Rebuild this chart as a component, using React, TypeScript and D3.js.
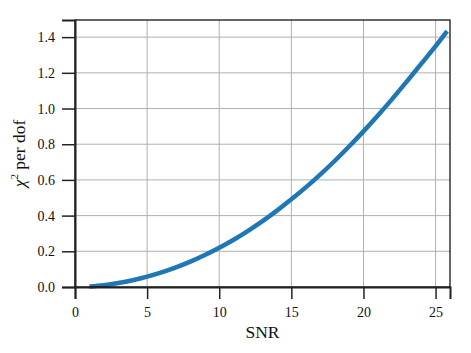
import React, { useEffect, useRef } from "react";
import { select, scaleLinear, line, axisLeft, axisBottom, curveMonotoneX } from "d3";

// values
const snr = [1, 2, 3, 4, 5, 6, 7, 8, 9, 10, 11, 12, 13, 14, 15, 16, 17, 18, 19, 20, 21, 22, 23, 24, 25, 25.8];
const chi2 = [
  0.003, 0.01, 0.022, 0.038, 0.058, 0.082, 0.11, 0.142, 0.179, 0.22, 0.265, 0.315, 0.369,
  0.428, 0.491, 0.558, 0.63, 0.706, 0.787, 0.872, 0.961, 1.054, 1.151, 1.25, 1.349, 1.434
];
const xTicks = [0, 5, 10, 15, 20, 25];
const yTicks = [0, 0.2, 0.4, 0.6, 0.8, 1.0, 1.2, 1.4];

const App = () => {
  const ref = useRef<SVGSVGElement>(null);
  const width = 471;
  const height = 353;

  useEffect(() => {
    const svg = select(ref.current);
    svg.selectAll("*").remove();

    const margin = { top: 20, right: 21, bottom: 66, left: 75 };
    const innerWidth = width - margin.left - margin.right;
    const innerHeight = height - margin.top - margin.bottom;
    const font = "'Liberation Serif', 'Times New Roman', serif";

    const xScale = scaleLinear().domain([0, 26]).range([0, innerWidth]);
    const yScale = scaleLinear().domain([0, 1.496]).range([innerHeight, 0]);

    const g = svg.append("g").attr("transform", `translate(${margin.left}, ${margin.top})`);

    // grid
    g.append("g")
      .selectAll("line")
      .data(xTicks.slice(1))
      .enter()
      .append("line")
      .attr("x1", d => xScale(d))
      .attr("x2", d => xScale(d))
      .attr("y1", 0)
      .attr("y2", innerHeight)
      .attr("stroke", "#b0b0b0")
      .attr("stroke-width", 1);
    g.append("g")
      .selectAll("line")
      .data(yTicks.slice(1))
      .enter()
      .append("line")
      .attr("x1", 0)
      .attr("x2", innerWidth)
      .attr("y1", d => yScale(d))
      .attr("y2", d => yScale(d))
      .attr("stroke", "#b0b0b0")
      .attr("stroke-width", 1);

    // curve
    const pts = snr.map((s, i) => [s, chi2[i]] as [number, number]);
    g.append("path")
      .datum(pts)
      .attr("fill", "none")
      .attr("stroke", "#1f77b4")
      .attr("stroke-width", 4.5)
      .attr("d", line<[number, number]>()
        .x(d => xScale(d[0]))
        .y(d => yScale(d[1]))
        .curve(curveMonotoneX));

    // frame
    g.append("rect")
      .attr("width", innerWidth)
      .attr("height", innerHeight)
      .attr("fill", "none")
      .attr("stroke", "#000")
      .attr("stroke-width", 1.2);

    const yAxis = g.append("g")
      .call(axisLeft(yScale).tickValues(yTicks).tickFormat(d => (+d).toFixed(1)).tickSize(13).tickPadding(7));
    const xAxis = g.append("g")
      .attr("transform", `translate(0, ${innerHeight})`)
      .call(axisBottom(xScale).tickValues(xTicks).tickFormat(d => String(d)).tickSize(12).tickPadding(8));

    [yAxis, xAxis].forEach(a => {
      a.select(".domain").attr("stroke", "#222").attr("stroke-width", 2);
      a.selectAll(".tick line").attr("stroke", "#222").attr("stroke-width", 1.5);
      a.selectAll(".tick text").attr("font-family", font).attr("font-size", 14).attr("fill", "#111");
    });

    svg.append("text")
      .attr("x", margin.left + innerWidth / 2)
      .attr("y", 338)
      .attr("text-anchor", "middle")
      .attr("font-family", font)
      .attr("font-size", 17.5)
      .attr("fill", "#111")
      .text("SNR");

    const yl = svg.append("text")
      .attr("transform", `translate(25, ${margin.top + innerHeight / 2}) rotate(-90)`)
      .attr("text-anchor", "middle")
      .attr("font-family", font)
      .attr("font-size", 17.5)
      .attr("fill", "#111");
    yl.append("tspan").attr("font-style", "italic").text("χ");
    yl.append("tspan").attr("font-size", 11).attr("dy", -7).text("2");
    yl.append("tspan").attr("dy", 7).text(" per dof");
  }, []);

  return (
    <svg
      ref={ref}
      width={width}
      height={height}
      style={{ position: "absolute", left: 0, top: 0, background: "#fff" }}
    />
  );
};

export default App;
